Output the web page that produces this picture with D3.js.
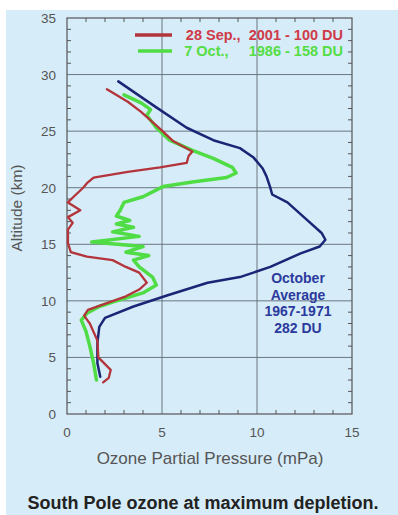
<!DOCTYPE html>
<html>
<head>
<meta charset="utf-8">
<script src="https://cdn.jsdelivr.net/npm/d3@7"></script>
<style>
  body { margin: 0; background: #fff; }
  svg { display: block; font-family: Arial, "Liberation Sans", sans-serif; }
</style>
</head>
<body>
<script>
// ozone profiles: partial pressure (mPa) vs altitude (km)
var sep2001P = [1.9,2.2,2.3,1.65,1.6,1.2,0.9,1.1,2.1,3.1,3.8,4.2,3.8,3.1,2.4,1.05,0.2,0.05,0.05,0.3,0.05,0.7,0.05,0.35,0.85,1.05,1.4,3.2,4.9,6.3,6.4,6.6,5.6,4.9,3.9,3.2,2.1];
var sep2001A = [2.8,3.2,3.9,5.0,6.5,8.0,8.7,9.2,9.8,10.4,11.0,11.6,12.5,13.0,13.6,13.9,14.3,15.1,16.3,16.9,17.4,18.0,18.7,19.2,20.0,20.4,20.9,21.4,21.8,22.2,22.8,23.2,24.1,25.2,26.7,27.6,28.7];

var oct1986P = [1.55,1.4,1.2,1.0,0.75,1.05,1.7,2.4,4.0,4.7,4.5,3.8,3.5,4.3,3.1,4.0,1.3,3.8,2.4,3.5,2.6,3.3,2.6,2.8,3.0,4.0,5.05,6.6,8.4,8.9,8.7,7.7,6.6,5.4,4.7,4.2,4.4,3.9,3.0];
var oct1986A = [3.0,4.5,6.0,7.3,8.3,8.9,9.5,9.9,10.7,11.4,12.1,13.0,13.6,14.0,14.3,14.8,15.2,15.7,16.1,16.5,16.8,17.1,17.5,18.0,18.7,19.2,20.1,20.5,20.9,21.3,21.8,22.6,23.3,24.2,25.3,26.4,26.9,27.5,28.2];

var octAvgP = [1.75,1.6,1.6,1.7,2.0,3.5,5.3,7.4,9.1,10.7,12.3,13.3,13.6,13.4,12.6,11.6,10.8,10.7,10.5,10.3,9.8,9.1,7.7,6.3,4.7,2.7];
var octAvgA = [3.3,4.5,6.3,7.7,8.5,9.5,10.5,11.6,12.1,13.0,14.2,14.8,15.4,16.0,17.2,18.7,19.4,20.0,21.0,21.7,22.7,23.5,24.2,25.3,27.1,29.4];

var xTicks = [0, 5, 10, 15];
var yTicks = [0, 5, 10, 15, 20, 25, 30, 35];
var legendLabels = ["28 Sep.,  2001 - 100 DU", "7 Oct.,     1986 - 158 DU"];
var noteLines = ["October", "Average", "1967-1971", "282 DU"];

var W = 398, H = 515;
var svg = d3.select("body").append("svg").attr("width", W).attr("height", H);

svg.append("rect").attr("x", 6).attr("y", 10).attr("width", W - 6).attr("height", H - 10).attr("fill", "#d6ecf8");

var x = d3.scaleLinear().domain([0, 15]).range([67, 352]);
var y = d3.scaleLinear().domain([0, 35]).range([414, 18]);

// grid
svg.append("g").selectAll("line").data([5, 10]).enter().append("line")
  .attr("x1", d => x(d)).attr("x2", d => x(d)).attr("y1", y(0)).attr("y2", y(35))
  .attr("stroke", "#6a7680").attr("stroke-width", 1);
svg.append("g").selectAll("line").data([5, 10, 15, 20, 25, 30]).enter().append("line")
  .attr("x1", x(0)).attr("x2", x(15)).attr("y1", d => y(d)).attr("y2", d => y(d))
  .attr("stroke", "#6a7680").attr("stroke-width", 1);

// minor ticks, inward on all sides
var xm = d3.range(0, 16), ym = d3.range(0, 36);
var tk = svg.append("g").attr("stroke", "#555").attr("stroke-width", 1);
xm.forEach(function(v) {
  var l = v % 5 == 0 ? 0 : 4;
  tk.append("line").attr("x1", x(v)).attr("x2", x(v)).attr("y1", y(0)).attr("y2", y(0) - l);
  tk.append("line").attr("x1", x(v)).attr("x2", x(v)).attr("y1", y(35)).attr("y2", y(35) + l);
});
ym.forEach(function(v) {
  var l = v % 5 == 0 ? 0 : 4;
  tk.append("line").attr("x1", x(0)).attr("x2", x(0) + l).attr("y1", y(v)).attr("y2", y(v));
  tk.append("line").attr("x1", x(15)).attr("x2", x(15) - l).attr("y1", y(v)).attr("y2", y(v));
});

svg.append("rect").attr("x", x(0)).attr("y", y(35)).attr("width", x(15) - x(0)).attr("height", y(0) - y(35))
  .attr("fill", "none").attr("stroke", "#555").attr("stroke-width", 1.2);

// axis labels
svg.append("g").selectAll("text").data(xTicks).enter().append("text")
  .attr("x", d => x(d)).attr("y", 437).attr("text-anchor", "middle")
  .attr("font-size", 13.5).attr("fill", "#555").text(d => d);
svg.append("g").selectAll("text").data(yTicks).enter().append("text")
  .attr("x", 56).attr("y", d => y(d) + 5).attr("text-anchor", "end")
  .attr("font-size", 13.5).attr("fill", "#555").text(d => d);

svg.append("text").attr("x", 210).attr("y", 464).attr("text-anchor", "middle")
  .attr("font-size", 17).attr("fill", "#555").text("Ozone Partial Pressure (mPa)");
svg.append("text").attr("transform", "translate(22,208) rotate(-90)").attr("text-anchor", "middle")
  .attr("font-size", 15.5).attr("fill", "#555").text("Altitude (km)");
svg.append("text").attr("x", 203).attr("y", 509).attr("text-anchor", "middle")
  .attr("font-size", 18).attr("font-weight", "bold").attr("fill", "#222").text("South Pole ozone at maximum depletion.");

// profiles
var line = d3.line().x(d => x(d[0])).y(d => y(d[1]));
function pairs(p, a) { return p.map((v, i) => [v, a[i]]); }

var series = [
  { p: octAvgP, a: octAvgA, c: "#1b2576", w: 2.5 },
  { p: oct1986P, a: oct1986A, c: "#4fdc45", w: 3.5 },
  { p: sep2001P, a: sep2001A, c: "#b3353b", w: 2.3 }
];
series.forEach(function(s) {
  svg.append("path").datum(pairs(s.p, s.a)).attr("d", line)
    .attr("fill", "none").attr("stroke", s.c).attr("stroke-width", s.w)
    .attr("stroke-linejoin", "round").attr("stroke-linecap", "round");
});

// legend
var legColors = ["#b3353b", "#4fdc45"], legText = ["#d03a48", "#55dd44"], legY = [35, 51];
legendLabels.forEach(function(t, i) {
  svg.append("line").attr("x1", i ? 138 : 135).attr("x2", 172).attr("y1", legY[i]).attr("y2", legY[i])
    .attr("stroke", legColors[i]).attr("stroke-width", 3.5);
  svg.append("text").attr("x", 343).attr("y", legY[i] + 5).attr("text-anchor", "end")
    .attr("font-size", 14.5).attr("font-weight", "bold").attr("fill", legText[i])
    .attr("xml:space", "preserve").style("white-space", "pre").text(t);
});

// note
svg.append("g").selectAll("text").data(noteLines).enter().append("text")
  .attr("x", 298).attr("y", (d, i) => 283 + i * 16.5).attr("text-anchor", "middle")
  .attr("font-size", 14).attr("font-weight", "bold").attr("fill", "#2b3a9c").text(d => d);
</script>
</body>
</html>
